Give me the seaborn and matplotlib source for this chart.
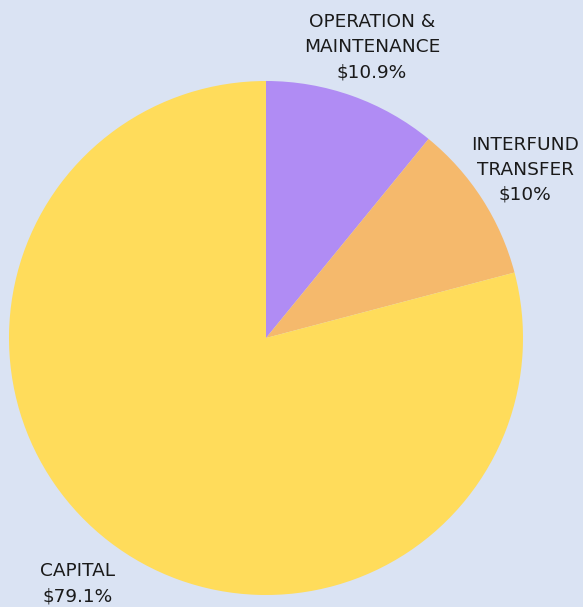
import matplotlib
matplotlib.use("Agg")
import matplotlib.pyplot as plt
import seaborn as sns

# Budget shares by category (percent)
categories = ["OPERATION &\nMAINTENANCE", "INTERFUND\nTRANSFER", "CAPITAL"]
shares = [10.9, 10, 79.1]
colors = ["#b08cf4", "#f5b96c", "#ffdc5b"]

sns.set_theme(style="white")
plt.rcParams["font.family"] = ["DejaVu Sans"]

bg = "#dae3f3"
fig = plt.figure(figsize=(5.83, 6.07), dpi=100, facecolor=bg)
W, H = 583, 607
cx, cy, r = 266, 338, 257
ax = fig.add_axes([(cx - r) / W, (H - cy - r) / H, 2 * r / W, 2 * r / H])
ax.set_facecolor(bg)

ax.pie(shares, colors=colors, startangle=90, counterclock=False,
       wedgeprops=dict(linewidth=0), radius=1)
ax.set_xlim(-1, 1)
ax.set_ylim(-1, 1)
ax.set_aspect("equal")
ax.axis("off")

# Label anchor points, in units of the pie radius
label_pos = [(0.412, 1.132), (1.008, 0.654), (-0.732, -0.957)]
for name, val, (x, y) in zip(categories, shares, label_pos):
    ax.text(x, y, f"{name}\n${val:g}%", ha="center", va="center",
            fontsize=13.3, color="#1a1a1a", linespacing=1.5, clip_on=False)

fig.savefig("out.png", dpi=100, facecolor=bg)
